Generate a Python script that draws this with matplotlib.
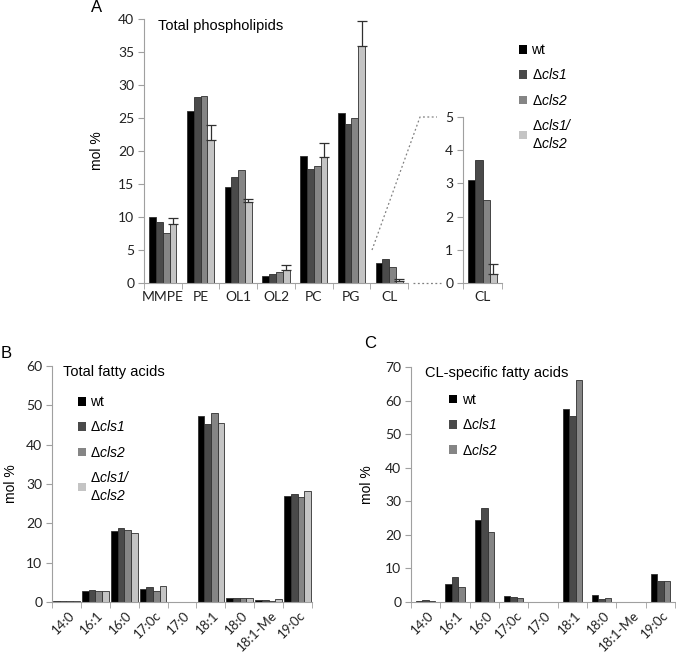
import numpy as np
import matplotlib
matplotlib.use("Agg")
import matplotlib.pyplot as plt
import matplotlib.transforms as mtransforms
from matplotlib.patches import Patch
from matplotlib.lines import Line2D

plt.rcParams['font.family'] = ['Liberation Sans', 'DejaVu Sans']
plt.rcParams['mathtext.fontset'] = 'custom'
plt.rcParams['mathtext.it'] = 'Liberation Sans:italic'
plt.rcParams['mathtext.rm'] = 'Liberation Sans:italic'

# Panel A: total phospholipids
lipids = ["MMPE", "PE", "OL1", "OL2", "PC", "PG", "CL"]
a_wt = [10.0, 26.1, 14.6, 1.1, 19.3, 25.8, 3.1]
a_cls1 = [9.3, 28.2, 16.1, 1.4, 17.2, 24.1, 3.7]
a_cls2 = [7.6, 28.3, 17.1, 1.7, 17.7, 25.0, 2.5]
a_dbl = [9.0, 21.6, 12.3, 1.9, 19.1, 35.9, 0.27]
a_dbl_err = [0.9, 2.3, 0.5, 0.9, 2.1, 3.8, 0.3]

# Panel B: total fatty acids
fatty = ["14:0", "16:1", "16:0", "17:0c", "17:0", "18:1", "18:0", "18:1-Me", "19:0c"]
b_wt = [0.2, 2.8, 18.0, 3.4, 0, 47.2, 1.0, 0.5, 26.9]
b_cls1 = [0.3, 3.1, 18.8, 3.7, 0, 45.2, 0.9, 0.5, 27.5]
b_cls2 = [0.2, 2.9, 18.2, 2.9, 0, 48.0, 1.0, 0.3, 26.6]
b_dbl = [0.3, 2.9, 17.6, 4.0, 0, 45.5, 1.0, 0.7, 28.1]

# Panel C: CL-specific fatty acids
c_wt = [0.3, 5.4, 24.4, 1.8, 0, 57.5, 2.2, 0, 8.4]
c_cls1 = [0.5, 7.5, 27.9, 1.5, 0, 55.5, 0.9, 0, 6.4]
c_cls2 = [0.2, 4.4, 20.8, 1.2, 0, 66.0, 1.3, 0, 6.4]

labels = ["wt", r"Δ$cls1$", r"Δ$cls2$", "Δ$cls1/$\nΔ$cls2$"]
colors = ["#000000", "#4a4a4a", "#858585", "#c4c4c4"]
axis_col = "#a0a0a0"
edge = "#303030"

W, H = 676, 653
fig = plt.figure(figsize=(W / 100, H / 100), dpi=100)


def px_axes(left, top, right, bottom):
    return fig.add_axes([left / W, 1 - bottom / H, (right - left) / W, (bottom - top) / H])


def style(ax, ncat, ymax, ystep, tickfont=10):
    ax.set_xlim(-0.5, ncat - 0.5)
    ax.set_ylim(0, ymax)
    ax.set_yticks(np.arange(0, ymax + 0.01, ystep))
    for s in ["top", "right"]:
        ax.spines[s].set_visible(False)
    for s in ["left", "bottom"]:
        ax.spines[s].set_color(axis_col)
    ax.set_xticks(np.arange(-0.5, ncat), minor=True)
    ax.tick_params(axis="x", which="major", length=0, pad=6)
    ax.tick_params(axis="x", which="minor", length=4, color=axis_col)
    ax.tick_params(axis="y", length=4, color=axis_col, pad=3)
    for t in ax.get_yticklabels():
        t.set_fontfamily("Lato")
        t.set_fontsize(tickfont)
        t.set_color("#222222")


def bars(ax, series, width, errs=None):
    n = len(series)
    x = np.arange(len(series[0]))
    for i, vals in enumerate(series):
        off = (i - (n - 1) / 2) * width
        ax.bar(x + off, vals, width, color=colors[i], edgecolor=edge, linewidth=0.6, zorder=2)
        if errs is not None and errs[i] is not None:
            ax.errorbar(x + off, vals, yerr=[np.zeros(len(vals)), errs[i]], fmt="none",
                        ecolor="#303030", elinewidth=0.9, capsize=3.5, capthick=0.9, zorder=3)


def rotated_labels(ax, names):
    ax.set_xticks(np.arange(len(names)))
    ax.set_xticklabels(names, fontfamily="Lato", fontsize=9.5, color="#222222",
                       rotation=45, ha="right", va="center", rotation_mode="anchor")
    ax.tick_params(axis="x", which="major", pad=8)
    shift = mtransforms.ScaledTranslation(6 / 100, 0, fig.dpi_scale_trans)
    for t in ax.get_xticklabels():
        t.set_transform(t.get_transform() + shift)


leg_kw = dict(frameon=False, fontsize=10, handlelength=0.6, handleheight=0.6,
              handletextpad=0.3, labelspacing=0.75, borderaxespad=0, borderpad=0)

# ---- Panel A
axA = px_axes(144, 19, 408, 283)
bars(axA, [a_wt, a_cls1, a_cls2, a_dbl], 0.18, errs=[None, None, None, a_dbl_err])
style(axA, len(lipids), 40, 5)
axA.set_xticks(np.arange(len(lipids)))
axA.set_xticklabels(lipids, fontfamily="Lato", fontsize=10, color="#222222")
axA.set_ylabel("mol %", fontsize=10, labelpad=10)
axA.text(0.053, 0.973, "Total phospholipids", transform=axA.transAxes, fontsize=10.5, va="center")

# inset CL
axI = px_axes(463, 117, 502, 283)
ci = lipids.index("CL")
cl_vals = [[a_wt[ci]], [a_cls1[ci]], [a_cls2[ci]], [a_dbl[ci]]]
bars(axI, cl_vals, 0.18, errs=[None, None, None, [a_dbl_err[ci]]])
style(axI, 1, 5, 1)
axI.set_xticks([0])
axI.set_xticklabels(["CL"], fontfamily="Lato", fontsize=10, color="#222222")

# dotted connectors
fig.add_artist(Line2D(np.array([372, 420, 437]) / W, 1 - np.array([250, 117, 117]) / H,
                      transform=fig.transFigure, color="#808080", lw=0.9, ls=(0, (1.5, 2))))
fig.add_artist(Line2D(np.array([413, 441]) / W, 1 - np.array([283, 283]) / H,
                      transform=fig.transFigure, color="#808080", lw=0.9, ls=(0, (1.5, 2))))

handles = [Patch(facecolor=c, edgecolor="none") for c in colors]
fig.legend(handles, labels, loc="upper left", bbox_to_anchor=(519 / W, 1 - 43 / H), **leg_kw)

fig.text(97 / W, 1 - 8 / H, "A", fontsize=12, va="center", ha="center")

# ---- Panel B
axB = px_axes(52, 366, 312, 602)
bars(axB, [b_wt, b_cls1, b_cls2, b_dbl], 0.23)
style(axB, len(fatty), 60, 10)
rotated_labels(axB, fatty)
axB.set_ylabel("mol %", fontsize=10, labelpad=6)
axB.text(0.042, 0.975, "Total fatty acids", transform=axB.transAxes, fontsize=10.5, va="center")
axB.legend(handles, labels, loc="upper left", bbox_to_anchor=(0.10, 0.877), **leg_kw)
fig.text(6 / W, 1 - 353 / H, "B", fontsize=12, va="center", ha="center")

# ---- Panel C
axC = px_axes(411, 367, 675, 602)
bars(axC, [c_wt, c_cls1, c_cls2], 0.22)
style(axC, len(fatty), 70, 10)
rotated_labels(axC, fatty)
axC.set_ylabel("mol %", fontsize=10, labelpad=8)
axC.text(0.053, 0.974, "CL-specific fatty acids", transform=axC.transAxes, fontsize=10.5, va="center")
axC.legend(handles[:3], labels[:3], loc="upper left", bbox_to_anchor=(0.144, 0.89), **leg_kw)
fig.text(370 / W, 1 - 343 / H, "C", fontsize=12, va="center", ha="center")

fig.savefig("out.png", dpi=100)
